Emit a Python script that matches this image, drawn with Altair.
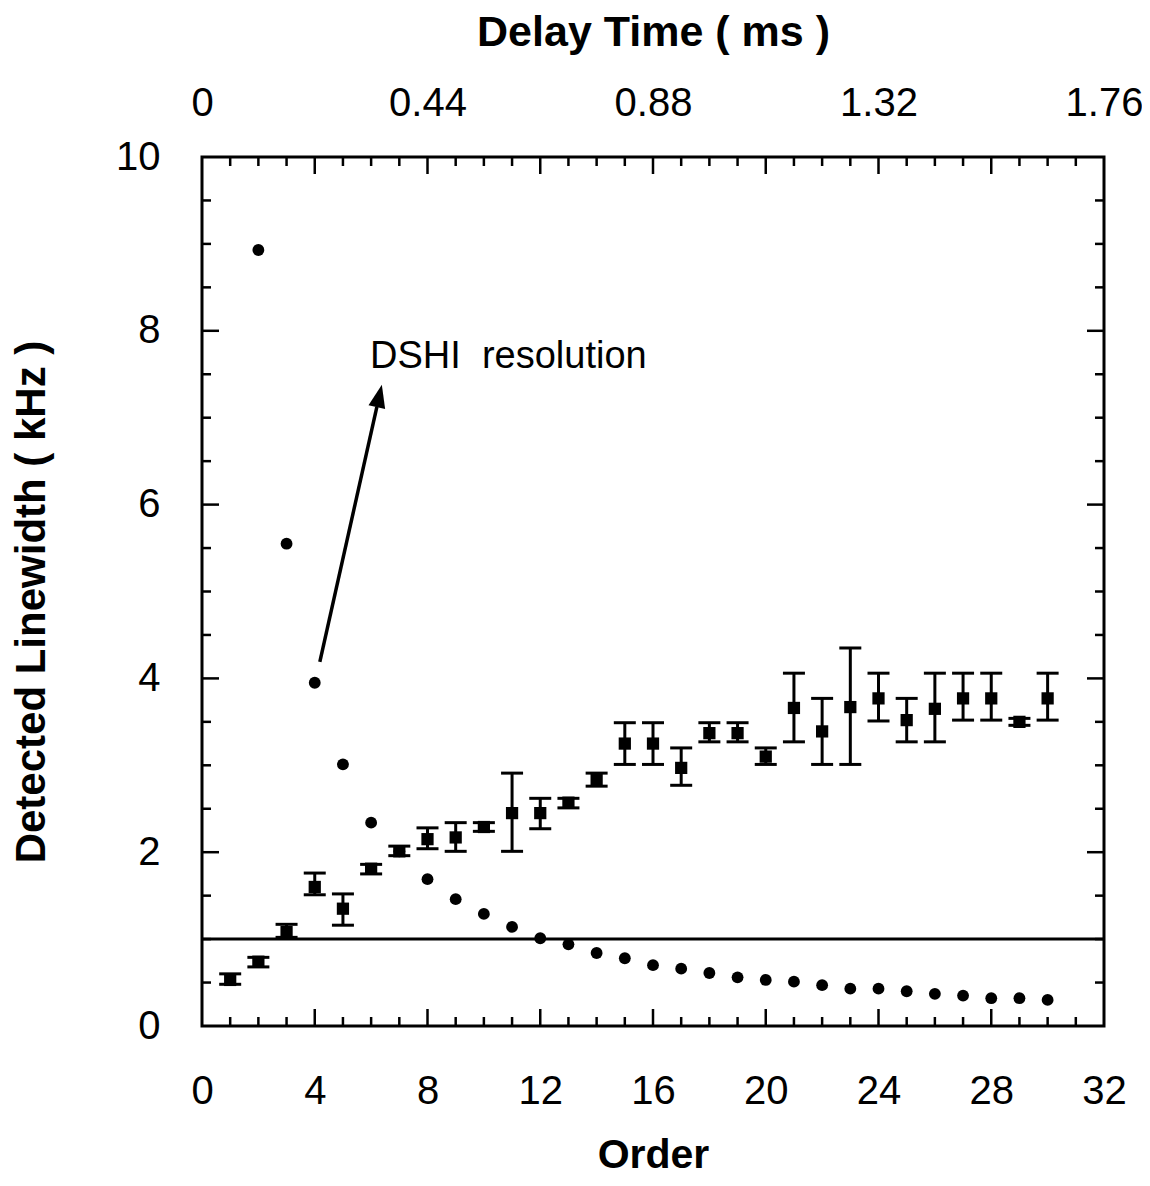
import math
import altair as alt
import pandas as pd

# ---------------- data ----------------
order = list(range(1, 31))
measured = [0.53, 0.74, 1.08, 1.60, 1.35, 1.81, 2.01, 2.15, 2.17, 2.29,
            2.45, 2.45, 2.57, 2.84, 3.25, 3.25, 2.97, 3.37, 3.37, 3.10,
            3.66, 3.39, 3.67, 3.77, 3.52, 3.65, 3.77, 3.77, 3.50, 3.77]
err_hi = [0.60, 0.79, 1.17, 1.76, 1.52, 1.86, 2.07, 2.28, 2.34, 2.34,
          2.91, 2.62, 2.62, 2.91, 3.49, 3.49, 3.20, 3.49, 3.49, 3.20,
          4.06, 3.77, 4.35, 4.06, 3.77, 4.06, 4.06, 4.06, 3.54, 4.06]
err_lo = [0.48, 0.68, 1.02, 1.51, 1.16, 1.75, 1.96, 2.04, 2.01, 2.24,
          2.01, 2.27, 2.51, 2.76, 3.01, 3.01, 2.77, 3.27, 3.27, 3.01,
          3.27, 3.01, 3.01, 3.51, 3.27, 3.27, 3.52, 3.52, 3.46, 3.52]

res_order = list(range(2, 31))
resolution = [8.93, 5.55, 3.95, 3.01, 2.34, 2.01, 1.69, 1.46, 1.29, 1.14,
              1.01, 0.94, 0.84, 0.78, 0.70, 0.66, 0.61, 0.56, 0.53, 0.51,
              0.47, 0.43, 0.43, 0.40, 0.37, 0.35, 0.32, 0.32, 0.30]

ref_level = 1.0
x_domain = [0, 32]
y_domain = [0, 10]
ms_per_order = 0.055

x_label_values = [0, 4, 8, 12, 16, 20, 24, 28, 32]
top_label_values = [0, 8, 16, 24, 32]
y_label_values = [0, 2, 4, 6, 8, 10]
x_major_ticks = [4, 8, 12, 16, 20, 24, 28]
x_minor_ticks = [1, 2, 3, 5, 6, 7, 9, 10, 11, 13, 14, 15, 17, 18, 19,
                 21, 22, 23, 25, 26, 27, 29, 30, 31]
y_major_ticks = [2, 4, 6, 8]
y_minor_ticks = [0.5, 1, 1.5, 2.5, 3, 3.5, 4.5, 5, 5.5, 6.5, 7, 7.5,
                 8.5, 9, 9.5]

annotation_text = "DSHI\u00a0 resolution"
annotation_pos = [5.96, 7.57]
arrow_tail = [4.18, 4.19]
arrow_tip = [6.38, 7.38]

# ---------------- layout ----------------
W, H = 902, 869
FONT = "Liberation Sans"
MAJOR, MINOR = 17, 9
LW = 3

xs = alt.Scale(domain=x_domain, nice=False, zero=False)
ys = alt.Scale(domain=y_domain, nice=False, zero=False)

df_meas = pd.DataFrame({"order": order, "lw": measured, "lo": err_lo, "hi": err_hi})
df_res = pd.DataFrame({"order": res_order, "lw": resolution})

bottom_axis = alt.Axis(orient="bottom", values=x_label_values, title="Order",
                       ticks=False, domain=False, grid=False, labelFlush=False,
                       labelOverlap=False, labelFontSize=40, labelFont=FONT,
                       labelColor="black", labelPadding=45,
                       titleFont=FONT, titleFontSize=41, titleFontWeight="bold",
                       titleColor="black", titleY=129, titleBaseline="middle")
top_axis = alt.Axis(orient="top", values=top_label_values, title="Delay Time ( ms )",
                    labelExpr=f"datum.value == 0 ? '0' : format(datum.value * {ms_per_order}, '.2f')",
                    ticks=False, domain=False, grid=False, labelFlush=False,
                    labelOverlap=False, labelFontSize=40, labelFont=FONT,
                    labelColor="black", labelPadding=34,
                    titleFont=FONT, titleFontSize=43, titleFontWeight="bold",
                    titleColor="black", titleY=-125, titleBaseline="middle")
left_axis = alt.Axis(orient="left", values=y_label_values,
                     title="Detected Linewidth ( kHz )",
                     ticks=False, domain=False, grid=False, labelFlush=False,
                     labelOverlap=False, labelFontSize=40, labelFont=FONT,
                     labelColor="black", labelPadding=42,
                     titleFont=FONT, titleFontSize=42, titleFontWeight="bold",
                     titleColor="black", titleX=-171, titleY=H / 2 + 10,
                     titleAngle=-90, titleBaseline="middle", titleAlign="center")

# error bars
err_rule = alt.Chart(df_meas).mark_rule(color="black", strokeWidth=LW).encode(
    x=alt.X("order:Q", scale=xs, axis=bottom_axis),
    y=alt.Y("lo:Q", scale=ys, axis=left_axis),
    y2="hi:Q",
)
cap_lo = alt.Chart(df_meas).mark_tick(color="black", orient="horizontal", size=22,
                                       thickness=LW, opacity=1).encode(
    x=alt.X("order:Q", scale=xs, axis=None),
    y=alt.Y("lo:Q", scale=ys, axis=None),
)
cap_hi = alt.Chart(df_meas).mark_tick(color="black", orient="horizontal", size=22,
                                       thickness=LW, opacity=1).encode(
    x=alt.X("order:Q", scale=xs, axis=None),
    y=alt.Y("hi:Q", scale=ys, axis=None),
)
squares = alt.Chart(df_meas).mark_square(color="black", opacity=1, size=150).encode(
    x=alt.X("order:Q", scale=xs, axis=None),
    y=alt.Y("lw:Q", scale=ys, axis=None),
)
circles = alt.Chart(df_res).mark_circle(color="black", opacity=1, size=140).encode(
    x=alt.X("order:Q", scale=xs, axis=None),
    y=alt.Y("lw:Q", scale=ys, axis=None),
)

ref_df = pd.DataFrame({"x": [x_domain[0]], "x2": [x_domain[1]], "y": [ref_level]})
ref_line = alt.Chart(ref_df).mark_rule(color="black", strokeWidth=3).encode(
    x=alt.X("x:Q", scale=xs, axis=top_axis),
    x2="x2:Q",
    y=alt.Y("y:Q", scale=ys, axis=None),
)

# arrow
frac = 0.92
shaft_end = [arrow_tail[0] + frac * (arrow_tip[0] - arrow_tail[0]),
             arrow_tail[1] + frac * (arrow_tip[1] - arrow_tail[1])]
arrow_df = pd.DataFrame({"x": [arrow_tail[0]], "y": [arrow_tail[1]],
                         "x2": [shaft_end[0]], "y2": [shaft_end[1]]})
shaft = alt.Chart(arrow_df).mark_rule(color="black", strokeWidth=3.5).encode(
    x=alt.X("x:Q", scale=xs, axis=None), y=alt.Y("y:Q", scale=ys, axis=None),
    x2="x2:Q", y2="y2:Q",
)
px_dx = (arrow_tip[0] - arrow_tail[0]) * W / (x_domain[1] - x_domain[0])
px_dy = (arrow_tip[1] - arrow_tail[1]) * H / (y_domain[1] - y_domain[0])
head_angle = math.degrees(math.atan2(px_dx, px_dy))
head_df = pd.DataFrame({"x": [arrow_tip[0]], "y": [arrow_tip[1]]})
head = alt.Chart(head_df).mark_point(
    shape="M0,0 L0.37,1 L-0.37,1 Z", filled=True, color="black", opacity=1,
    size=2116, angle=head_angle,
).encode(x=alt.X("x:Q", scale=xs, axis=None), y=alt.Y("y:Q", scale=ys, axis=None))

text_df = pd.DataFrame({"x": [annotation_pos[0]], "y": [annotation_pos[1]],
                        "t": [annotation_text]})
label = alt.Chart(text_df).mark_text(align="left", baseline="alphabetic",
                                     font=FONT, fontSize=38, color="black").encode(
    x=alt.X("x:Q", scale=xs, axis=None), y=alt.Y("y:Q", scale=ys, axis=None),
    text="t:N",
)

# inward tick marks on all four sides
def xticks(vals, length, side):
    d = pd.DataFrame({"v": vals})
    if side == "bottom":
        enc = dict(y=alt.value(H), y2=alt.value(H - length))
    else:
        enc = dict(y=alt.value(0), y2=alt.value(length))
    return alt.Chart(d).mark_rule(color="black", strokeWidth=2.5).encode(
        x=alt.X("v:Q", scale=xs, axis=None), **enc)

def yticks(vals, length, side):
    d = pd.DataFrame({"v": vals})
    if side == "left":
        enc = dict(x=alt.value(0), x2=alt.value(length))
    else:
        enc = dict(x=alt.value(W), x2=alt.value(W - length))
    return alt.Chart(d).mark_rule(color="black", strokeWidth=2.5).encode(
        y=alt.Y("v:Q", scale=ys, axis=None), **enc)

tick_layers = [
    xticks(x_major_ticks, MAJOR, "bottom"), xticks(x_minor_ticks, MINOR, "bottom"),
    xticks(x_major_ticks, MAJOR, "top"), xticks(x_minor_ticks, MINOR, "top"),
    yticks(y_major_ticks, MAJOR, "left"), yticks(y_minor_ticks, MINOR, "left"),
    yticks(y_major_ticks, MAJOR, "right"), yticks(y_minor_ticks, MINOR, "right"),
]

chart = alt.layer(
    err_rule, cap_lo, cap_hi, squares, circles, ref_line, shaft, head, label,
    *tick_layers,
).resolve_axis(x="independent", y="independent").properties(
    width=W, height=H,
    autosize=alt.AutoSizeParams(type="none"),
    padding={"left": 194, "top": 149, "right": 38, "bottom": 152},
    background="white",
).configure_view(stroke="black", strokeWidth=3)

chart.save("out.html", embed_options={"renderer": "svg", "actions": False})
